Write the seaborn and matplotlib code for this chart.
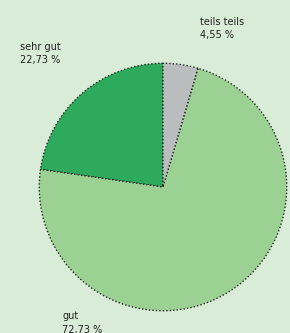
import matplotlib
matplotlib.use("Agg")
import matplotlib.pyplot as plt
import seaborn as sns

# Data
categories = ["sehr gut", "gut", "teils teils"]
shares = [22.73, 72.73, 4.55]
share_labels = ["22,73 %", "72,73 %", "4,55 %"]

sns.set_theme(style="white")
plt.rcParams["font.family"] = ["DejaVu Sans"]

bg = "#d9ecd7"
colors = ["#2eaa5c", "#9bd193", "#b9bdbd"]

W, H = 290, 333
fig = plt.figure(figsize=(W / 100, H / 100), dpi=100, facecolor=bg)
# pie centre ~ (163, 187) px, radius ~ 125 px
ax = fig.add_axes([38 / W, 21 / H, 250 / W, 250 / H])
ax.set_facecolor(bg)

wedges, _ = ax.pie(
    shares,
    colors=colors,
    startangle=90,
    counterclock=True,
    wedgeprops={"edgecolor": "#222222", "linewidth": 1.0, "linestyle": (0, (1, 1.5))},
)
ax.set_xlim(-1.01, 1.01)
ax.set_ylim(-1.01, 1.01)
ax.set_aspect("equal")

# labels placed in figure coords like the reference
label_pos = {"sehr gut": (0.07, 0.875), "teils teils": (0.69, 0.95), "gut": (0.215, 0.065)}
for cat, lab in zip(categories, share_labels):
    x, y = label_pos[cat]
    fig.text(x, y, f"{cat}\n{lab}", fontsize=7, color="#222222",
             va="top", ha="left", linespacing=1.4)

fig.savefig("out.png", dpi=100, facecolor=bg)
